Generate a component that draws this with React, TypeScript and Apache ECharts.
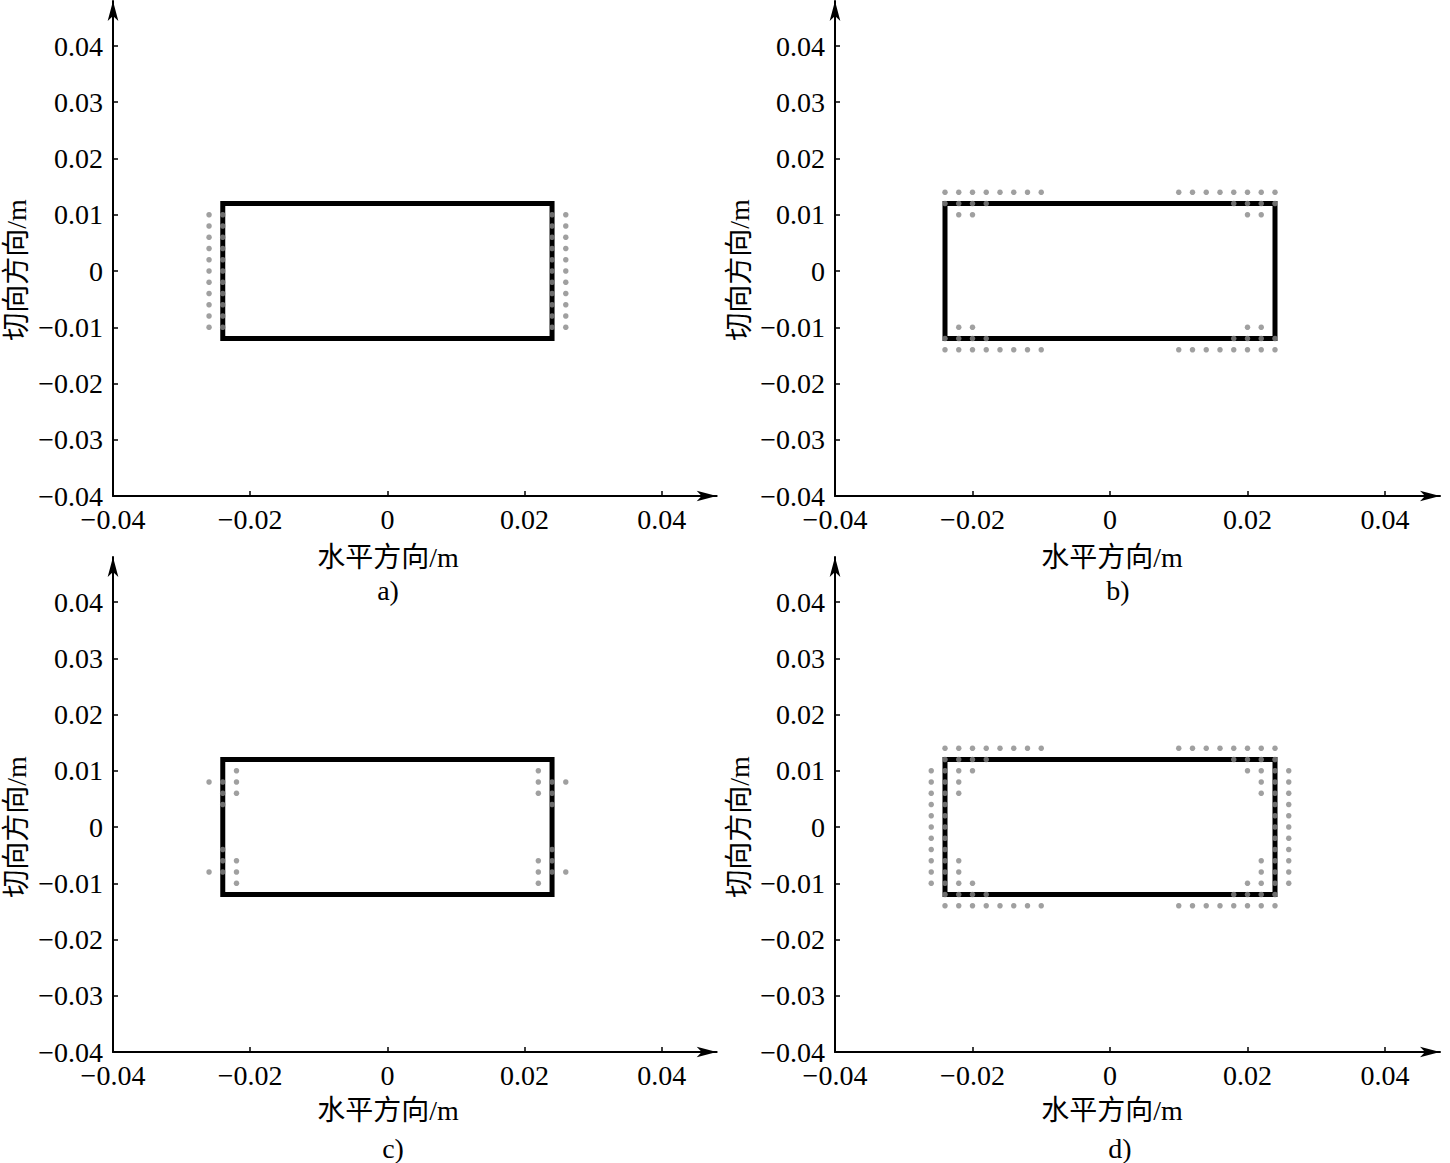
import React, { useEffect, useRef } from "react";
import * as echarts from "echarts";

// ---- data ----
const xTicks = [-0.04, -0.02, 0, 0.02, 0.04];
const yTicks = [-0.04, -0.03, -0.02, -0.01, 0, 0.01, 0.02, 0.03, 0.04];
const xName = "水平方向/m";
const yName = "切向方向/m";
const panelLabels = ["a)", "b)", "c)", "d)"];

// conductor outline (corners)
const rectangle: number[][] = [
  [-0.024, 0.012],
  [0.024, 0.012],
  [0.024, -0.012],
  [-0.024, -0.012],
  [-0.024, 0.012],
];

// panel a: columns of points on the short sides
const sideColumnX = [-0.026, -0.024, 0.024, 0.026];
const sideColumnY = [-0.01, -0.008, -0.006, -0.004, -0.002, 0, 0.002, 0.004, 0.006, 0.008, 0.01];

// panel b: rows of points at the corners [y, xs]
const cornerRows: [number, number[]][] = [
  [0.014, [-0.024, -0.022, -0.02, -0.018, -0.016, -0.014, -0.012, -0.01, 0.01, 0.012, 0.014, 0.016, 0.018, 0.02, 0.022, 0.024]],
  [0.012, [-0.024, -0.022, -0.02, -0.018, 0.018, 0.02, 0.022, 0.024]],
  [0.01, [-0.022, -0.02, 0.02, 0.022]],
  [-0.01, [-0.022, -0.02, 0.02, 0.022]],
  [-0.012, [-0.024, -0.022, -0.02, -0.018, 0.018, 0.02, 0.022, 0.024]],
  [-0.014, [-0.024, -0.022, -0.02, -0.018, -0.016, -0.014, -0.012, -0.01, 0.01, 0.012, 0.014, 0.016, 0.018, 0.02, 0.022, 0.024]],
];

// panel c: points near the corners
const panelCDots: number[][] = [
  [-0.026, 0.008], [-0.024, 0.008], [-0.024, 0.006], [-0.024, 0.004],
  [-0.022, 0.01], [-0.022, 0.008], [-0.022, 0.006],
  [-0.026, -0.008], [-0.024, -0.008], [-0.024, -0.006], [-0.024, -0.004],
  [-0.022, -0.01], [-0.022, -0.008], [-0.022, -0.006],
  [0.026, 0.008], [0.024, 0.008], [0.024, 0.006], [0.024, 0.004],
  [0.022, 0.01], [0.022, 0.008], [0.022, 0.006],
  [0.026, -0.008], [0.024, -0.008], [0.024, -0.006], [0.024, -0.004],
  [0.022, -0.01], [0.022, -0.008], [0.022, -0.006],
];

// panel d: extra inner points
const panelDExtraDots: number[][] = [
  [-0.022, 0.008], [-0.022, 0.006], [-0.022, -0.008], [-0.022, -0.006],
  [0.022, 0.008], [0.022, 0.006], [0.022, -0.008], [0.022, -0.006],
];

// ---- builders ----
const columnDots = (): number[][] => {
  const out: number[][] = [];
  sideColumnX.forEach((x) => sideColumnY.forEach((y) => out.push([x, y])));
  return out;
};
const rowDots = (): number[][] => {
  const out: number[][] = [];
  cornerRows.forEach(([y, xs]) => xs.forEach((x) => out.push([x, y])));
  return out;
};

const panelDots = [
  columnDots(),
  rowDots(),
  panelCDots,
  [...columnDots(), ...rowDots(), ...panelDExtraDots],
];

const FONT = "'Liberation Serif', 'Times New Roman', 'Noto Sans CJK SC', serif";

const fmt = (v: number) => {
  if (Math.abs(v) < 1e-9) return "0";
  return (v < 0 ? "\u2212" : "") + Math.abs(v).toFixed(2);
};

// layout
const grids = [
  { left: 113, top: 1, width: 603.7, height: 495 },
  { left: 835, top: 1, width: 605, height: 495 },
  { left: 113, top: 557, width: 603.7, height: 495 },
  { left: 835, top: 557, width: 605, height: 495 },
];
const xNamePos = [[388, 557], [1112, 557], [388, 1110], [1112, 1110]];
const yNamePos = [[16, 270], [739, 270], [16, 827], [739, 827]];
const subPos = [[388, 590], [1118, 590], [393, 1148], [1120, 1148]];

export default function App() {
  const ref = useRef<HTMLDivElement>(null);
  useEffect(() => {
    document.body.style.margin = "0";
    if (!ref.current) return;
    const chart = echarts.init(ref.current, undefined, { renderer: "svg" });
    const axisLine = {
      show: true,
      onZero: false,
      lineStyle: { color: "#000", width: 2 },
      symbol: ["none", "arrow"],
      symbolSize: [8, 20],
    };
    const xAxis = grids.map((_, i) => ({
      type: "value",
      gridIndex: i,
      min: -0.04,
      max: 0.048,
      interval: 0.02,
      splitLine: { show: false },
      axisLine,
      axisTick: { show: true, inside: true, length: 5, lineStyle: { color: "#000", width: 1.5 }, customValues: xTicks },
      axisLabel: { color: "#000", fontFamily: FONT, fontSize: 28, margin: 9, customValues: xTicks, formatter: fmt },
    }));
    const yAxis = grids.map((_, i) => ({
      type: "value",
      gridIndex: i,
      min: -0.04,
      max: 0.048,
      interval: 0.01,
      splitLine: { show: false },
      axisLine,
      axisTick: { show: true, inside: true, length: 5, lineStyle: { color: "#000", width: 1.5 }, customValues: yTicks },
      axisLabel: { color: "#000", fontFamily: FONT, fontSize: 28, margin: 10, customValues: yTicks, formatter: fmt },
    }));
    const series: any[] = [];
    grids.forEach((_, i) => {
      series.push({
        type: "line",
        xAxisIndex: i,
        yAxisIndex: i,
        data: rectangle,
        symbol: "none",
        silent: true,
        lineStyle: { color: "#000", width: 5, cap: "square", join: "miter" },
        z: 2,
      });
      series.push({
        type: "scatter",
        xAxisIndex: i,
        yAxisIndex: i,
        data: panelDots[i],
        symbol: "circle",
        symbolSize: 5.5,
        silent: true,
        itemStyle: { color: "#888888" },
        z: 3,
      });
    });
    const textStyle = { fill: "#000", font: `28px ${FONT}`, align: "center", verticalAlign: "middle" };
    const graphic: any[] = [];
    grids.forEach((_, i) => {
      graphic.push({ type: "text", x: xNamePos[i][0], y: xNamePos[i][1], style: { ...textStyle, text: xName } });
      graphic.push({ type: "text", x: yNamePos[i][0], y: yNamePos[i][1], rotation: Math.PI / 2, style: { ...textStyle, text: yName } });
      graphic.push({ type: "text", x: subPos[i][0], y: subPos[i][1], style: { ...textStyle, text: panelLabels[i] } });
    });
    chart.setOption({
      animation: false,
      backgroundColor: "#fff",
      grid: grids.map((g) => ({ ...g, containLabel: false })),
      xAxis,
      yAxis,
      series,
      graphic,
    });
    return () => chart.dispose();
  }, []);
  return <div ref={ref} style={{ width: 1450, height: 1163 }} />;
}
